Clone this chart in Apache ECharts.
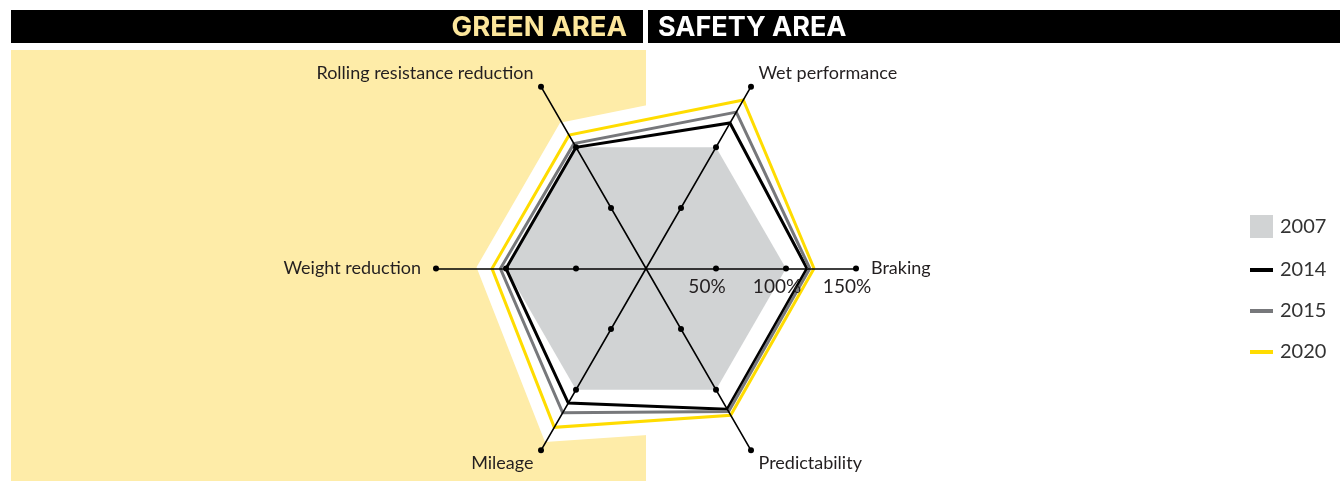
<!DOCTYPE html>
<html><head><meta charset="utf-8">
<script src="https://cdn.jsdelivr.net/npm/echarts@6/dist/echarts.min.js"></script>
<style>html,body{margin:0;padding:0;background:#fff}#c{width:1340px;height:481px}</style>
</head><body><div id="c"></div>
<script>
// ---- data ----
const indicators = ['Braking', 'Wet performance', 'Rolling resistance reduction', 'Weight reduction', 'Mileage', 'Predictability'];
const years = ['2007', '2014', '2015', '2020'];
const v2007 = [100, 100, 100, 100, 100, 100];
const v2014 = [115, 120, 100, 100, 111, 116];
const v2015 = [117, 129, 103, 104, 119, 118];
const v2020 = [120, 139, 110, 110, 131, 121];
const tickValues = [50, 100, 150];
const axisMax = 150;
const headers = ['GREEN AREA', 'SAFETY AREA'];

// ---- styles ----
const TXT = '#231f20';
const FONT = 'Lato';
const cGray = '#d1d3d4', cBlack = '#000000', cMid = '#77787b', cYellow = '#ffdc00';

const chart = echarts.init(document.getElementById('c'), null, {renderer: 'canvas'});

const dotSeries = tickValues.map(t => ({
  type: 'radar', name: '_dot' + t, silent: true, z: 4,
  data: [{value: indicators.map(() => t)}],
  symbol: 'circle', symbolSize: 6,
  itemStyle: {color: '#000'},
  lineStyle: {opacity: 0, width: 0}
}));

const option = {
  backgroundColor: '#fff',
  animation: false,
  graphic: [
    {type: 'rect', z: -10, shape: {x: 11, y: 50, width: 635, height: 431}, style: {fill: '#feeca8'}},
    {type: 'rect', z: -10, shape: {x: 11, y: 10, width: 632, height: 33}, style: {fill: '#000'}},
    {type: 'rect', z: -10, shape: {x: 648, y: 10, width: 692, height: 33}, style: {fill: '#000'}},
    {type: 'text', z: 5, x: 627, y: 28, style: {text: headers[0], fill: '#fce69b', font: 'bold 27.5px Inter', textAlign: 'right', textVerticalAlign: 'middle'}},
    {type: 'text', z: 5, x: 658, y: 28, style: {text: headers[1], fill: '#ffffff', font: 'bold 27px Inter', textAlign: 'left', textVerticalAlign: 'middle'}}
  ],
  legend: [
    {
      orient: 'vertical', left: 1245, top: 210,
      data: [years[0]], icon: 'rect', itemWidth: 23, itemHeight: 23,
      textStyle: {color: '#333', fontSize: 20, fontFamily: FONT, padding: [0, 0, 0, 2]},
      selectedMode: false
    },
    {
      orient: 'vertical', left: 1245, top: 255, itemGap: 21,
      data: years.slice(1), icon: 'rect', itemWidth: 23, itemHeight: 4,
      textStyle: {color: '#333', fontSize: 20, fontFamily: FONT, padding: [0, 0, 0, 2]},
      selectedMode: false
    }
  ],
  radar: {
    center: [646, 268.5], radius: 210, startAngle: 0, shape: 'polygon', splitNumber: 3, z: 3,
    indicator: indicators.map((n, i) => {
      const ind = {name: n, min: 0, max: axisMax};
      if (i === 0) {
        ind.axisLabel = {
          show: true, showMinLabel: false, showMaxLabel: true, margin: -9,
          verticalAlign: 'top',
          color: TXT, fontSize: 19, fontFamily: FONT, padding: [0, 18, 0, 0],
          formatter: v => (v === 0 ? '' : v + '%')
        };
      }
      return ind;
    }),
    nameGap: 15,
    axisName: {color: TXT, fontSize: 18, fontFamily: FONT},
    axisLine: {lineStyle: {color: '#000', width: 1.6}},
    axisTick: {show: false},
    axisLabel: {show: false},
    splitLine: {show: false},
    splitArea: {show: false}
  },
  series: [
    {
      type: 'radar', name: '_halo', silent: true, z: 1,
      data: [{value: v2020}], symbol: 'none',
      lineStyle: {color: '#fff', width: 28, join: 'miter', opacity: 1},
      areaStyle: {color: '#fff', opacity: 1},
      itemStyle: {color: '#fff'}
    },
    {
      type: 'radar', name: years[0], z: 2,
      data: [{value: v2007, name: years[0]}], symbol: 'none',
      itemStyle: {color: cGray},
      lineStyle: {width: 0, opacity: 0},
      areaStyle: {color: cGray, opacity: 1}
    },
    {
      type: 'radar', name: years[1], z: 2,
      data: [{value: v2014, name: years[1]}], symbol: 'none',
      itemStyle: {color: cBlack},
      lineStyle: {color: cBlack, width: 3, join: 'miter'}
    },
    {
      type: 'radar', name: years[2], z: 2,
      data: [{value: v2015, name: years[2]}], symbol: 'none',
      itemStyle: {color: cMid},
      lineStyle: {color: cMid, width: 3, join: 'miter'}
    },
    {
      type: 'radar', name: years[3], z: 2,
      data: [{value: v2020, name: years[3]}], symbol: 'none',
      itemStyle: {color: cYellow},
      lineStyle: {color: cYellow, width: 3, join: 'miter'}
    }
  ].concat(dotSeries)
};
chart.setOption(option);
</script>
</body></html>
